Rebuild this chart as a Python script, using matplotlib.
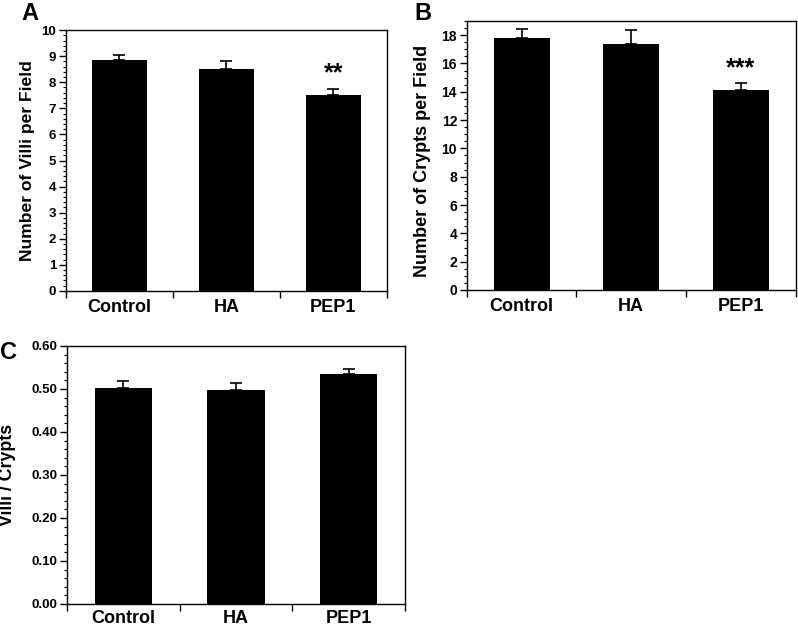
import numpy as np
import matplotlib.pyplot as plt
from matplotlib.ticker import MultipleLocator

plt.rcParams['font.family'] = ['Liberation Sans', 'DejaVu Sans']
plt.rcParams['font.weight'] = 'bold'

groups = ["Control", "HA", "PEP1"]

villi = [8.85, 8.5, 7.5]
villi_err = [0.2, 0.3, 0.25]

crypts = [17.8, 17.35, 14.1]
crypts_err = [0.6, 1.0, 0.5]

ratio = [0.502, 0.498, 0.535]
ratio_err = [0.016, 0.015, 0.012]

stars = ["", "", "**"]
stars_b = ["", "", "***"]

fig = plt.figure(figsize=(7.98, 6.27), dpi=100)


def panel(rect, vals, errs, ylim, major, minor, fmt, ylabel, tick_fs, lab_fs,
          lab_xy, xlab_off, sig=None):
    ax = fig.add_axes(rect)
    x = np.arange(len(groups)) + 0.5
    ax.bar(x, vals, width=0.51, color="black", zorder=2)
    ax.errorbar(x, vals, yerr=[np.zeros(len(errs)), errs], fmt="none",
                ecolor="black", elinewidth=1.2, capsize=4, capthick=1.2, zorder=3)
    if sig:
        for xi, v, e, s in zip(x, vals, errs, sig):
            if s:
                ax.text(xi, v + e + (ylim[1] * 0.012), s, ha="center", va="bottom",
                        fontsize=18, fontweight="bold")
    ax.set_xlim(0, 3)
    ax.set_ylim(*ylim)
    ax.set_xticks([0, 1, 2, 3])
    ax.set_xticklabels([])
    for xi, g in zip(x, groups):
        ax.text(xi, -xlab_off, g, transform=ax.get_xaxis_transform(), ha="center",
                va="top", fontsize=13, fontweight="bold")
    ax.yaxis.set_major_locator(MultipleLocator(major))
    ax.yaxis.set_minor_locator(MultipleLocator(minor))
    ax.yaxis.set_major_formatter(plt.FormatStrFormatter(fmt))
    ax.tick_params(axis="y", which="major", direction="out", length=5, width=1,
                   labelsize=tick_fs, pad=2)
    ax.tick_params(axis="y", which="minor", direction="out", length=2.5, width=0.8)
    ax.tick_params(axis="x", which="major", direction="out", length=5, width=1)
    for lab in ax.get_yticklabels():
        lab.set_fontweight("bold")
    ax.set_ylabel(ylabel, fontsize=lab_fs, fontweight="bold")
    ax.yaxis.set_label_coords(*lab_xy)
    for sp in ax.spines.values():
        sp.set_linewidth(1)
    return ax


axA = panel([0.0827, 0.536, 0.402, 0.416], villi, villi_err, (0, 10), 1, 0.2, "%d",
            "Number of Villi per Field", 9.5, 12.6, (-0.097, 0.5), 0.03, stars)
axB = panel([0.585, 0.5375, 0.412, 0.429], crypts, crypts_err, (0, 19), 2, 0.5, "%d",
            "Number of Crypts per Field", 10, 13, (-0.109, 0.48), 0.03, stars_b)
axC = panel([0.084, 0.0367, 0.4236, 0.4115], ratio, ratio_err, (0, 0.6), 0.1, 0.02, "%.2f",
            "Villi / Crypts", 9.5, 12.8, (-0.151, 0.5), 0.025)

fig.text(21 / 798, 1 - 2 / 627, "A", fontsize=17, fontweight="bold", va="top")
fig.text(414 / 798, 1 - 2 / 627, "B", fontsize=17, fontweight="bold", va="top")
fig.text(0 / 798, 1 - 341 / 627, "C", fontsize=17, fontweight="bold", va="top")

plt.savefig("out.png", dpi=100)
plt.close()
